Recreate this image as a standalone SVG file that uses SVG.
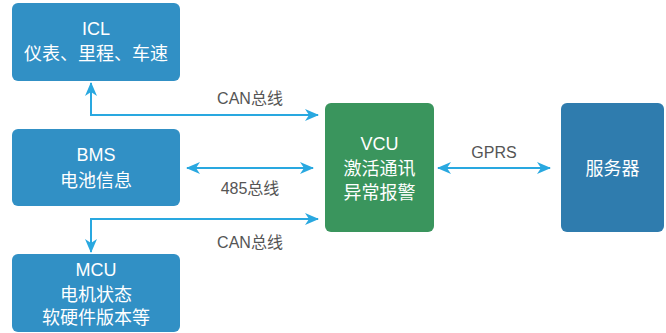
<svg xmlns="http://www.w3.org/2000/svg" width="666" height="333" viewBox="0 0 666 333">
<defs>
<style>
.box{fill:#3190c5}
.vcu{fill:#3a955d}
.srv{fill:#2f7cae}
.t{font-family:"Liberation Sans","Noto Sans CJK SC",sans-serif;font-size:18px;fill:#ffffff;text-anchor:middle}
.l{font-family:"Liberation Sans","Noto Sans CJK SC",sans-serif;font-size:16px;fill:#555555;text-anchor:middle}
.c{fill:none;stroke:#29a8e0;stroke-width:2}
</style>
<marker id="ah" viewBox="0 0 14 12" refX="13" refY="6" markerWidth="14" markerHeight="12" markerUnits="userSpaceOnUse" orient="auto-start-reverse">
<path d="M0,0 L14,6 L0,12 L4,6 z" fill="#29a8e0"/>
</marker>
</defs>
<rect width="666" height="333" fill="#ffffff"/>
<g id="connectors">
<path class="c" d="M91,83 V115 H318" marker-start="url(#ah)" marker-end="url(#ah)"/>
<path class="c" d="M187,168 H313" marker-start="url(#ah)" marker-end="url(#ah)"/>
<path class="c" d="M318,219 H91 V252" marker-start="url(#ah)" marker-end="url(#ah)"/>
<path class="c" d="M438,168 H550" marker-start="url(#ah)" marker-end="url(#ah)"/>
<text class="l" x="250" y="104">CAN总线</text>
<text class="l" x="250" y="194">485总线</text>
<text class="l" x="250" y="248">CAN总线</text>
<text class="l" x="494" y="158">GPRS</text>
</g>
<g id="icl">
<rect class="box" x="12" y="3" width="168" height="78" rx="6"/>
<text class="t" x="96" y="35">ICL</text>
<text class="t" x="96" y="60">仪表、里程、车速</text>
</g>
<g id="bms">
<rect class="box" x="12" y="129" width="168" height="77" rx="6"/>
<text class="t" x="96" y="161">BMS</text>
<text class="t" x="96" y="187">电池信息</text>
</g>
<g id="mcu">
<rect class="box" x="12" y="254" width="168" height="78" rx="6"/>
<text class="t" x="96" y="276">MCU</text>
<text class="t" x="96" y="301">电机状态</text>
<text class="t" x="96" y="324">软硬件版本等</text>
</g>
<g id="vcu">
<rect class="vcu" x="325" y="103" width="109" height="129" rx="6"/>
<text class="t" x="379.5" y="150">VCU</text>
<text class="t" x="379.5" y="175">激活通讯</text>
<text class="t" x="379.5" y="199">异常报警</text>
</g>
<g id="server">
<rect class="srv" x="561" y="103" width="103" height="129" rx="6"/>
<text class="t" x="612.5" y="175">服务器</text>
</g>
</svg>
